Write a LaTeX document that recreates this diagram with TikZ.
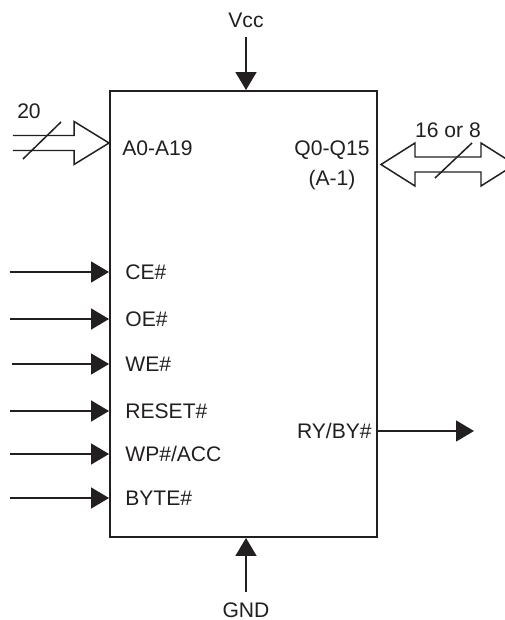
\documentclass[tikz,border=0pt]{standalone}
\usepackage{fontspec}
\setmainfont{Liberation Sans}
\usepackage{tikz}
\usetikzlibrary{arrows.meta}

\begin{document}
\begin{tikzpicture}[font=\fontsize{12}{17}\selectfont]

\definecolor{chipink}{HTML}{231F20}

\tikzset{
  chipbox/.style={
    draw=chipink, line width=1.1pt, minimum width=5.34cm, minimum height=8.92cm,
    inner sep=0pt
  },
  pinlabel/.style={anchor=west, text=chipink, inner sep=0pt},
  sigedge/.style={
    draw=chipink, line width=0.85pt, -{Triangle[length=3.6mm,width=4.2mm]}
  },
  busedge/.style={draw=chipink, line width=0.85pt, line join=miter},
  buswidth/.style={draw=chipink, line width=0.85pt}
}

\useasboundingbox (0,0) rectangle (10.1,12.4);

% The device outline.
\node[chipbox] (chip) at (4.87,6.12) {};

% Supply pins.
\node[text=chipink] (vcc) at (4.92,12.0) {Vcc};
\coordinate (vccin) at (4.92,11.66);
\draw[sigedge] (vccin) -- (chip.north -| vccin);
\node[text=chipink] (gnd) at (4.92,0.2) {GND};
\coordinate (gndin) at (4.92,0.56);
\draw[sigedge] (gndin) -- (chip.south -| gndin);

% Address bus: 20 lines in.
\node[pinlabel] (addr) at (2.44,9.44) {A0-A19};
\coordinate (addrin) at (0.26,9.54);
\coordinate (addrtip) at (chip.west |- addrin);
\draw[busedge] ([yshift=1.5mm]addrin) -- ([xshift=-7mm,yshift=1.5mm]addrtip)
  -- ([xshift=-7mm,yshift=4.3mm]addrtip) -- (addrtip)
  -- ([xshift=-7mm,yshift=-4.3mm]addrtip) -- ([xshift=-7mm,yshift=-1.5mm]addrtip)
  -- ([yshift=-1.5mm]addrin);
\draw[buswidth] (0.46,9.22) -- (1.22,9.96);
\node[text=chipink] (addrwidth) at (0.58,10.18) {20};

% Data bus: 16 or 8 lines, both ways.
\node[text=chipink, align=center] (data) at (6.64,9.1) {Q0-Q15\\(A-1)};
\coordinate (datal) at (7.62,9.11);
\coordinate (datar) at (10.3,9.11);
\draw[busedge] (datal) -- ([xshift=6.8mm,yshift=4.3mm]datal)
  -- ([xshift=6.8mm,yshift=1.5mm]datal) -- ([xshift=-6.8mm,yshift=1.5mm]datar)
  -- ([xshift=-6.8mm,yshift=4.3mm]datar) -- (datar)
  -- ([xshift=-6.8mm,yshift=-4.3mm]datar) -- ([xshift=-6.8mm,yshift=-1.5mm]datar)
  -- ([xshift=6.8mm,yshift=-1.5mm]datal) -- ([xshift=6.8mm,yshift=-4.3mm]datal)
  -- cycle;
\draw[buswidth] (8.7,8.84) -- (9.44,9.54);
\node[text=chipink] (datawidth) at (8.96,9.8) {16 or 8};

% Control inputs.
\foreach \sig/\name/\x/\y in {
  ce/CE\#/0.2/6.96,
  oe/OE\#/0.2/6.02,
  we/WE\#/0.24/5.12,
  reset/RESET\#/0.2/4.18,
  wp/WP\#\slash ACC/0.2/3.32,
  byte/BYTE\#/0.2/2.44} {%
  \node[pinlabel] (\sig) at (2.5,\y) {\name};
  \coordinate (\sig in) at (\x,\y);
  \draw[sigedge] (\sig in) -- (chip.west |- \sig in);
}

% Ready/busy output.
\node[pinlabel, anchor=east] (ryby) at (7.44,3.78) {RY/BY\#};
\coordinate (rybyout) at (9.48,3.78);
\draw[sigedge] (chip.east |- rybyout) -- (rybyout);

\end{tikzpicture}
\end{document}
